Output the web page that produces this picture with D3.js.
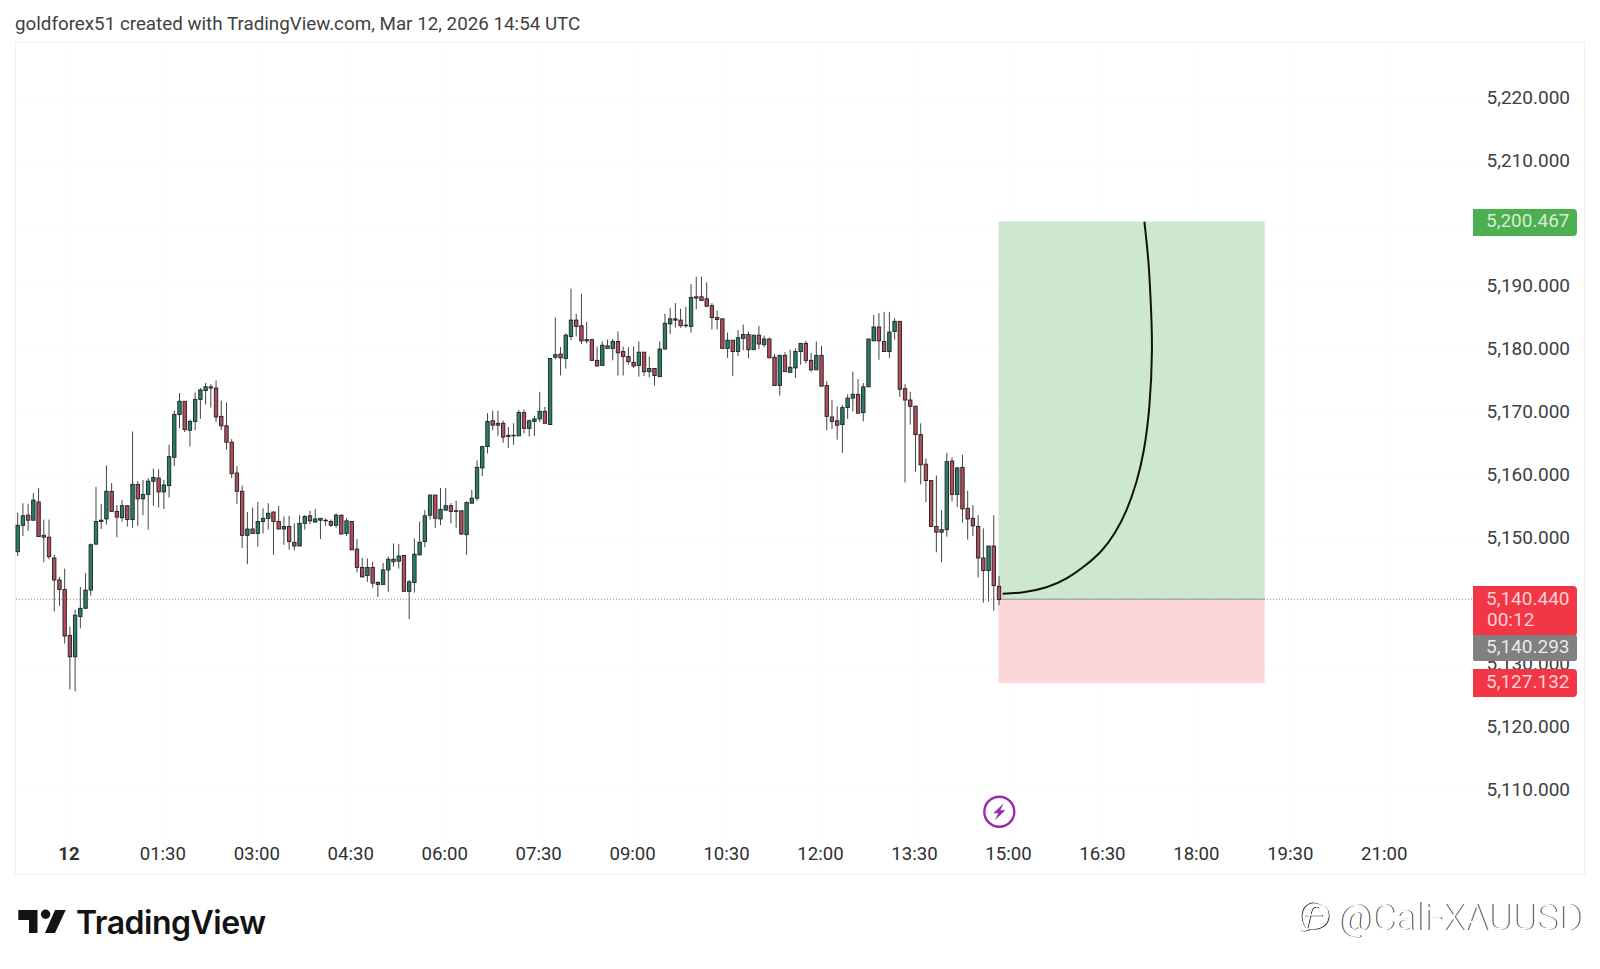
<!DOCTYPE html>
<html><head><meta charset="utf-8">
<style>html,body{margin:0;padding:0;background:#fff}svg{display:block}text{font-family:Roboto,"Open Sans",sans-serif}</style>
<script src="https://cdn.jsdelivr.net/npm/d3@7"></script>
</head><body><div id="c"></div>
<script>
const opens=[5148.0,5152.2,5153.8,5153.0,5155.9,5150.6,5150.3,5147.0,5143.5,5142.0,5134.7,5131.3,5137.7,5139.0,5141.9,5149.2,5153.0,5153.2,5157.6,5154.4,5153.4,5155.3,5153.1,5158.7,5156.4,5157.1,5159.2,5159.7,5157.5,5158.5,5163.0,5169.8,5171.9,5167.3,5168.7,5172.2,5173.6,5174.2,5174.0,5169.5,5168.0,5165.4,5160.5,5157.6,5150.6,5151.6,5150.9,5152.8,5153.3,5154.3,5152.8,5151.6,5152.0,5149.5,5148.9,5152.5,5153.7,5152.7,5153.0,5153.0,5152.8,5152.2,5153.8,5150.9,5152.8,5148.4,5145.5,5144.2,5145.5,5143.1,5142.8,5145.1,5146.8,5146.5,5147.4,5141.7,5143.1,5147.5,5149.6,5153.8,5157.0,5153.2,5154.6,5155.3,5154.5,5154.5,5150.7,5155.7,5156.5,5161.3,5164.7,5168.8,5168.4,5168.4,5166.5,5166.4,5166.4,5170.1,5167.6,5168.7,5169.1,5170.3,5168.2,5178.9,5179.4,5178.7,5182.2,5184.8,5183.9,5181.7,5181.7,5178.4,5177.6,5180.7,5180.3,5181.4,5179.8,5179.0,5178.1,5177.6,5179.7,5176.6,5177.1,5175.8,5180.2,5184.2,5185.0,5184.8,5184.0,5183.8,5188.5,5188.5,5188.2,5187.1,5185.2,5185.0,5180.3,5181.6,5179.8,5181.9,5182.5,5180.1,5182.4,5180.9,5181.8,5178.9,5174.4,5179.2,5176.5,5177.2,5179.8,5181.1,5178.4,5176.9,5179.2,5174.4,5169.4,5168.8,5168.2,5170.9,5172.4,5173.0,5170.1,5174.2,5181.5,5183.7,5181.4,5179.8,5183.0,5184.6,5173.9,5172.1,5171.1,5166.6,5161.9,5159.3,5152.0,5151.1,5151.5,5162.4,5157.1,5161.4,5154.9,5153.3,5152.0,5147.0,5145.0,5148.9,5142.5];
const highs=[5154.2,5155.7,5155.6,5157.3,5158.1,5153.1,5153.1,5147.5,5144.0,5145.3,5136.1,5138.8,5142.4,5144.6,5149.3,5158.3,5155.6,5161.7,5158.9,5155.4,5156.2,5155.4,5167.1,5159.2,5159.4,5159.7,5161.2,5161.1,5159.4,5165.0,5170.4,5173.2,5171.9,5169.0,5173.3,5174.0,5174.8,5174.6,5175.2,5172.0,5171.7,5165.9,5161.6,5158.5,5154.3,5155.0,5155.9,5154.9,5155.7,5154.4,5155.3,5153.6,5153.7,5152.5,5153.8,5153.8,5154.5,5154.8,5153.3,5153.3,5153.1,5154.1,5153.9,5153.3,5152.9,5150.0,5147.0,5146.9,5146.4,5143.3,5146.2,5147.2,5149.3,5149.2,5147.4,5143.5,5150.1,5152.8,5154.6,5157.0,5157.0,5158.1,5158.1,5155.7,5156.1,5154.6,5156.0,5157.8,5162.5,5164.7,5170.0,5170.4,5170.4,5168.8,5167.8,5168.4,5170.5,5170.6,5169.0,5169.6,5173.4,5171.0,5178.7,5185.2,5180.5,5182.7,5189.8,5185.8,5189.0,5184.5,5181.8,5180.6,5181.4,5181.7,5181.8,5183.0,5180.6,5180.5,5180.6,5181.4,5179.7,5179.0,5177.2,5181.4,5185.8,5186.7,5187.5,5186.6,5186.9,5190.5,5191.7,5191.7,5190.8,5187.5,5186.3,5185.1,5182.8,5181.6,5183.2,5184.1,5183.0,5182.4,5183.9,5182.3,5182.0,5179.4,5179.3,5179.7,5180.1,5180.3,5181.1,5181.5,5179.6,5181.4,5180.7,5175.1,5172.1,5171.1,5171.3,5173.0,5176.6,5175.4,5174.8,5181.8,5185.6,5185.9,5186.1,5186.1,5185.1,5184.6,5174.6,5173.4,5171.2,5168.4,5162.8,5159.3,5160.1,5154.6,5163.7,5163.0,5161.5,5163.4,5157.7,5155.4,5153.8,5151.7,5148.9,5153.8,5144.1];
const lows=[5147.3,5150.5,5151.3,5153.0,5150.4,5146.3,5146.8,5138.5,5139.4,5133.4,5126.1,5125.8,5135.8,5139.0,5141.0,5149.2,5151.6,5152.3,5154.4,5150.3,5152.8,5152.0,5151.8,5152.1,5153.8,5151.5,5155.3,5155.0,5154.8,5156.6,5161.6,5167.6,5167.0,5164.7,5167.3,5169.1,5171.4,5170.9,5168.6,5167.3,5164.2,5159.7,5155.6,5148.6,5146.0,5150.9,5148.8,5150.9,5151.5,5147.5,5151.6,5149.1,5148.3,5148.2,5148.9,5151.5,5152.4,5152.7,5150.0,5152.1,5151.9,5151.8,5150.8,5150.5,5148.3,5144.7,5143.9,5143.2,5142.3,5140.8,5142.8,5141.6,5145.6,5145.3,5141.7,5137.3,5141.5,5147.4,5148.7,5153.1,5151.8,5152.2,5154.6,5152.5,5151.8,5150.7,5147.5,5155.7,5156.1,5160.0,5163.6,5167.3,5166.4,5165.3,5164.5,5165.0,5166.4,5166.8,5166.3,5166.4,5168.6,5168.4,5168.2,5178.6,5176.0,5177.1,5181.6,5182.2,5181.0,5181.1,5178.4,5177.5,5177.6,5180.2,5178.4,5176.0,5176.0,5177.7,5177.2,5175.8,5175.9,5175.7,5174.4,5175.8,5180.2,5182.6,5183.6,5183.6,5183.6,5182.8,5186.5,5187.9,5186.9,5183.3,5183.3,5180.3,5178.8,5175.9,5179.1,5180.0,5178.7,5180.1,5180.2,5180.5,5178.8,5174.4,5172.8,5176.6,5176.5,5175.6,5177.7,5177.9,5176.6,5176.9,5174.3,5167.3,5167.5,5165.8,5163.7,5169.1,5170.3,5170.0,5168.7,5174.2,5181.5,5178.5,5179.8,5178.8,5181.7,5172.6,5159.0,5168.2,5160.7,5158.7,5155.9,5152.0,5147.9,5146.3,5150.4,5156.0,5155.1,5152.6,5149.9,5150.5,5143.9,5139.9,5140.1,5138.6,5139.5];
const closes=[5152.2,5153.7,5153.0,5156.2,5150.4,5150.3,5147.2,5143.5,5142.0,5134.6,5131.3,5137.9,5139.0,5141.9,5149.1,5152.8,5152.8,5157.6,5154.4,5153.5,5155.3,5153.1,5158.7,5156.4,5157.1,5159.2,5159.8,5157.5,5158.6,5163.1,5169.8,5171.9,5167.4,5168.7,5172.2,5173.7,5174.2,5174.0,5169.4,5168.0,5165.4,5160.4,5157.6,5150.6,5151.6,5150.9,5152.8,5153.3,5154.1,5152.8,5151.6,5152.0,5149.6,5148.9,5152.5,5153.6,5152.9,5153.2,5153.3,5152.9,5152.2,5153.8,5150.8,5152.9,5148.3,5145.5,5144.0,5145.5,5143.0,5142.8,5145.1,5146.8,5146.4,5147.3,5141.7,5143.2,5147.6,5149.5,5153.7,5157.0,5153.3,5154.7,5155.3,5154.4,5154.4,5150.8,5155.8,5156.5,5161.4,5164.7,5168.7,5168.1,5168.1,5166.2,5166.3,5166.5,5170.1,5167.6,5168.8,5169.1,5170.3,5168.4,5178.7,5179.3,5178.8,5182.4,5184.8,5183.8,5181.5,5181.5,5178.4,5177.5,5180.8,5180.3,5181.4,5179.6,5179.0,5178.2,5177.5,5179.7,5176.6,5177.1,5176.0,5180.2,5184.3,5185.0,5184.8,5183.9,5183.9,5188.4,5188.3,5187.9,5187.0,5185.2,5184.9,5180.3,5181.6,5179.8,5182.0,5182.5,5180.1,5182.4,5181.0,5181.8,5178.8,5174.4,5179.2,5176.6,5177.3,5179.8,5181.1,5178.4,5176.9,5179.2,5174.3,5169.5,5168.7,5168.1,5170.9,5172.4,5173.0,5170.0,5174.2,5181.8,5183.7,5181.5,5179.8,5182.9,5184.6,5173.8,5172.1,5171.1,5166.6,5161.8,5159.3,5152.0,5151.1,5151.5,5162.3,5157.1,5161.3,5154.8,5153.2,5152.1,5147.0,5145.0,5148.9,5142.6,5140.4];
const curveIdx=[188.7,192.65,197.1,200.95,204.45,207.65,210.2,212.45,214.35,215.75,216.8,217.3,217.05,216.6,215.85];
const curvePrice=[5141.3,5141.55,5142.35,5143.75,5145.75,5148.15,5151,5154.65,5159.15,5164.15,5171.05,5180.05,5188,5194.35,5200.45];
const priceTicks=[5220,5210,5200,5190,5180,5170,5160,5150,5140,5130,5120,5110];
const timeLabels=["12","01:30","03:00","04:30","06:00","07:30","09:00","10:30","12:00","13:30","15:00","16:30","18:00","19:30","21:00"];
const timeIndex=[10,28,46,64,82,100,118,136,154,172,190,208,226,244,262];
const targetPrice=5200.467,lastPrice=5140.44,entryPrice=5140.293,stopPrice=5127.132;
const boxStartIdx=187.9,boxEndIdx=238.9;
const titleText="goldforex51 created with TradingView.com, Mar 12, 2026 14:54 UTC";
const countdown="00:12",brand="TradingView",watermark="@Cali-XAUUSD";

const W=1600,H=969;
const svg=d3.select("#c").append("svg").attr("width",W).attr("height",H);
const x=d3.scaleLinear().domain([0,188]).range([17.7,999]);
const y=d3.scaleLinear().domain([5200.467,5127.132]).range([221.5,683]);
const fmt=d3.format(",.3f");
const green="#2b7d6b",red="#b74a5a",edge="#1d2322";

svg.append("text").attr("x",15).attr("y",30).attr("font-size",18.8).attr("fill","#3f3f3f").text(titleText);
svg.append("rect").attr("x",15.5).attr("y",42.5).attr("width",1569).attr("height",832).attr("fill","#fff").attr("stroke","#f0f0f0");

// faint grid
svg.append("g").selectAll("line").data(timeIndex).join("line").attr("x1",d=>x(d)).attr("x2",d=>x(d)).attr("y1",44).attr("y2",874).attr("stroke","#fdfdfd");
svg.append("g").selectAll("line").data(priceTicks).join("line").attr("x1",16).attr("x2",1584).attr("y1",d=>y(d)).attr("y2",d=>y(d)).attr("stroke","#fdfdfd");

// position tool
const bx=x(boxStartIdx),bw=x(boxEndIdx)-x(boxStartIdx);
svg.append("rect").attr("x",bx).attr("y",y(targetPrice)).attr("width",bw).attr("height",y(lastPrice)-y(targetPrice)).attr("fill","#cde8cf");
svg.append("rect").attr("x",bx).attr("y",y(lastPrice)).attr("width",bw).attr("height",y(stopPrice)-y(lastPrice)).attr("fill","#fcd7da");
svg.append("line").attr("x1",bx).attr("x2",bx+bw).attr("y1",y(lastPrice)).attr("y2",y(lastPrice)).attr("stroke","#9a9a9a").attr("stroke-width",1);

// last price line
svg.append("line").attr("x1",16).attr("x2",1472).attr("y1",y(lastPrice)).attr("y2",y(lastPrice)).attr("stroke","#a98a8a").attr("stroke-dasharray","1 2").attr("stroke-width",1);

// candles
const idx=d3.range(opens.length);
const up=i=>closes[i]>=opens[i];
const cg=svg.append("g");
cg.selectAll("line").data(idx).join("line").attr("x1",i=>x(i)).attr("x2",i=>x(i)).attr("y1",i=>y(highs[i])).attr("y2",i=>y(lows[i])).attr("stroke","#444").attr("stroke-width",1);
cg.selectAll("rect").data(idx).join("rect").attr("x",i=>x(i)-1.7).attr("width",3.4).attr("y",i=>y(Math.max(opens[i],closes[i]))).attr("height",i=>Math.max(.6,Math.abs(y(opens[i])-y(closes[i])))).attr("fill",i=>up(i)?green:red).attr("stroke",edge).attr("stroke-width",.9);

// curve drawing
svg.append("path").attr("d",d3.line().x(i=>x(curveIdx[i])).y(i=>y(curvePrice[i])).curve(d3.curveNatural)(d3.range(curveIdx.length))).attr("fill","none").attr("stroke","#111").attr("stroke-width",2);

// axes
const yAxis=d3.axisRight(y).tickValues(priceTicks).tickSize(0).tickPadding(0).tickFormat(fmt);
const gy=svg.append("g").attr("transform","translate(1570,-1.5)").call(yAxis);
gy.select(".domain").remove();
gy.selectAll("text").attr("text-anchor","end").attr("font-size",19).attr("font-family","Roboto").attr("fill","#404040");
const xAxis=d3.axisBottom(x).tickValues(timeIndex).tickSize(0).tickPadding(0).tickFormat((d,i)=>timeLabels[i]);
const gx=svg.append("g").attr("transform","translate(-1.5,847)").call(xAxis);
gx.select(".domain").remove();
gx.selectAll("text").attr("font-size",18.6).attr("font-family","Roboto").attr("fill","#2f2f2f").attr("font-weight",(d,i)=>i===0?700:400);

// price labels
function lab(y0,y1,fill,rows){
  svg.append("path").attr("d",`M1473,${y0}H1573a4,4 0 0 1 4,4V${y1-4}a4,4 0 0 1 -4,4H1473Z`).attr("fill",fill);
  rows.forEach(r=>svg.append("text").attr("x",r[2]||1569.5).attr("y",r[1]).attr("text-anchor",r[2]?"start":"end").attr("font-size",19).attr("fill","#fff").attr("fill-opacity",.78).text(r[0]));
}
lab(209,236,"#4caf50",[[fmt(targetPrice),227]]);
lab(586,636,"#f23645",[[fmt(lastPrice),604.5],[countdown,626,1487]]);
svg.append("rect").attr("x",1473).attr("y",635).attr("width",104).attr("height",26).attr("fill","#808080").attr("rx",2);
svg.append("text").attr("x",1569.5).attr("y",652.5).attr("text-anchor","end").attr("font-size",19).attr("fill","#fff").attr("fill-opacity",.85).text(fmt(entryPrice));
lab(669,697,"#f23645",[[fmt(stopPrice),687.5]]);

// lightning marker
const m=svg.append("g").attr("transform","translate(999.3,811.7)");
m.append("circle").attr("r",15).attr("fill","#fff").attr("stroke","#9c27b0").attr("stroke-width",2.4);
m.append("path").attr("d","M4.5,-8.5 L-6,1.5 L-1,1.5 L-4.5,8.5 L6,-1.5 L1,-1.5 Z").attr("fill","#9c27b0");

// TradingView logo
const lg=svg.append("g").attr("fill","#131313");
lg.append("path").attr("d","M18.3,910H37.5V933H29V920H18.3Z");
lg.append("circle").attr("cx",45.6).attr("cy",914.3).attr("r",4.7);
lg.append("path").attr("d","M55,910H65.7L55,933H45Z");
lg.append("text").attr("x",76).attr("y",934).style("font-family","Inter, Roboto").attr("font-size",32).attr("font-weight",600).attr("letter-spacing",-.5).text(brand);

// watermark (embossed)
const wm=svg.append("g").attr("font-weight",300).attr("font-size",36.8).attr("font-family","Roboto");
const ico="M1322,905 C1312,898 1302,904 1301,914 C1300,922 1304,927 1306,930 L1310,928 C1320,930 1328,924 1328,915 C1328,910 1326,907 1322,905 M1318,907 C1313,905 1311,908 1310,914 L1307,927 C1306,931 1303,931 1300,929 M1304,915 H1322";
wm.append("path").attr("d",ico).attr("fill","none").attr("stroke","#333").attr("stroke-width",1.2).attr("transform","translate(1,.7)");
wm.append("path").attr("d",ico).attr("fill","none").attr("stroke","#fff").attr("stroke-width",1.4);
wm.append("text").attr("x",1338.8).attr("y",930.2).attr("fill","#333").text(watermark);
wm.append("text").attr("x",1337.8).attr("y",929.5).attr("fill","#fff").text(watermark);
</script></body></html>
